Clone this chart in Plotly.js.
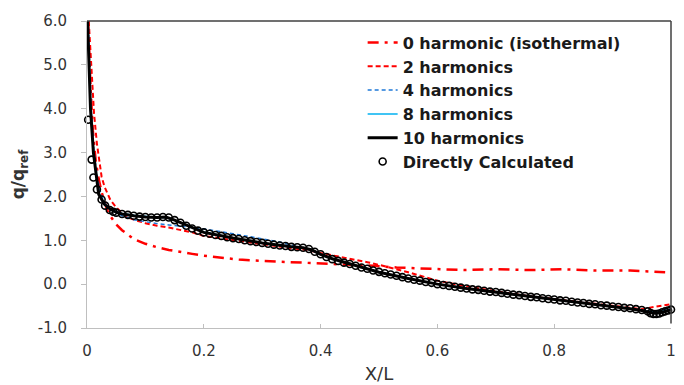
<!DOCTYPE html>
<html>
<head>
<meta charset="utf-8">
<script src="https://cdn.plot.ly/plotly-3.0.1.min.js"></script>
<style>html,body{margin:0;padding:0;background:#fff;}#chart{width:684px;height:385px;}</style>
</head>
<body>
<div id="chart"></div>
<script>
// 0 harmonic (isothermal)
const h0X = [0.002,0.006,0.010,0.015,0.020,0.025,0.030,0.035,0.040,0.045,0.050,0.060,0.070,0.080,0.100,0.120,0.140,0.160,0.180,0.200,0.230,0.260,0.300,0.350,0.400,0.430,0.460,0.490,0.530,0.590,0.645,0.700,0.760,0.815,0.870,0.930,0.960,0.990];
const h0Y = [6.00,4.50,3.50,2.80,2.40,2.10,1.88,1.68,1.55,1.45,1.36,1.23,1.12,1.03,0.92,0.84,0.78,0.73,0.69,0.65,0.60,0.56,0.53,0.50,0.47,0.46,0.45,0.42,0.38,0.34,0.32,0.34,0.32,0.34,0.31,0.31,0.29,0.27];
// 2 harmonics
const h2X = [0.003,0.008,0.012,0.017,0.020,0.025,0.030,0.035,0.040,0.050,0.060,0.070,0.080,0.100,0.120,0.140,0.160,0.180,0.200,0.250,0.300,0.350,0.380,0.400,0.420,0.450,0.480,0.500,0.550,0.600,0.650,0.700,0.750,0.800,0.850,0.900,0.950,0.970,0.990,1.000];
const h2Y = [6.00,4.80,3.90,3.20,2.90,2.45,2.22,2.05,1.92,1.75,1.62,1.52,1.47,1.39,1.33,1.29,1.24,1.18,1.10,1.00,0.91,0.82,0.77,0.71,0.66,0.58,0.50,0.44,0.27,0.08,-0.05,-0.16,-0.26,-0.34,-0.42,-0.50,-0.57,-0.52,-0.47,-0.46];
// 4 harmonics
const h4X = [0.002,0.004,0.007,0.012,0.018,0.023,0.030,0.040,0.050,0.060,0.080,0.100,0.120,0.140,0.160,0.180,0.200,0.250,0.300,0.330,0.350,0.370,0.390,0.400,0.420,0.450,0.500,0.550,0.600,0.650,0.700,0.750,0.800,0.850,0.900,0.950,0.970,0.990,1.000];
const h4Y = [6.00,5.00,4.00,3.00,2.40,2.10,1.85,1.70,1.62,1.56,1.47,1.42,1.38,1.35,1.32,1.29,1.26,1.15,1.03,0.96,0.89,0.83,0.74,0.68,0.57,0.46,0.28,0.13,0.00,-0.10,-0.18,-0.27,-0.35,-0.43,-0.51,-0.59,-0.63,-0.57,-0.56];
// 8 harmonics
const h8X = [0.001,0.003,0.006,0.011,0.020,0.030,0.040,0.050,0.060,0.080,0.100,0.120,0.135,0.150,0.170,0.200,0.250,0.300,0.350,0.370,0.385,0.400,0.420,0.450,0.500,0.550,0.600,0.650,0.700,0.750,0.800,0.850,0.900,0.930,0.950,0.965,0.975,0.985,1.000];
const h8Y = [6.00,5.00,4.00,3.00,2.10,1.83,1.72,1.65,1.61,1.57,1.54,1.52,1.52,1.46,1.35,1.19,1.05,0.94,0.85,0.83,0.78,0.68,0.58,0.46,0.27,0.13,0.00,-0.10,-0.18,-0.27,-0.35,-0.43,-0.51,-0.56,-0.60,-0.63,-0.64,-0.62,-0.57];
// 10 harmonics
const h10X = [0.001,0.003,0.006,0.011,0.020,0.030,0.040,0.050,0.060,0.080,0.100,0.120,0.135,0.150,0.170,0.200,0.250,0.300,0.350,0.370,0.385,0.400,0.420,0.450,0.500,0.550,0.600,0.650,0.700,0.750,0.800,0.850,0.900,0.930,0.950,0.965,0.975,0.985,1.000];
const h10Y = [6.00,5.00,4.00,3.00,2.05,1.82,1.71,1.64,1.60,1.56,1.53,1.52,1.53,1.46,1.35,1.18,1.05,0.94,0.85,0.83,0.78,0.68,0.58,0.46,0.27,0.13,0.00,-0.10,-0.18,-0.27,-0.35,-0.43,-0.51,-0.56,-0.60,-0.65,-0.66,-0.64,-0.58];
// Directly calculated
const dcX = [0.002,0.008,0.011,0.017,0.025,0.031,0.039,0.045,0.050,0.060,0.070,0.080,0.090,0.100,0.110,0.120,0.130,0.140,0.150,0.160,0.170,0.180,0.190,0.200,0.210,0.220,0.230,0.240,0.250,0.260,0.270,0.280,0.290,0.300,0.310,0.320,0.330,0.340,0.350,0.360,0.370,0.380,0.390,0.400,0.410,0.420,0.430,0.440,0.450,0.460,0.470,0.480,0.490,0.500,0.510,0.520,0.530,0.540,0.550,0.560,0.570,0.580,0.590,0.600,0.610,0.620,0.630,0.640,0.650,0.660,0.670,0.680,0.690,0.700,0.710,0.720,0.730,0.740,0.750,0.760,0.770,0.780,0.790,0.800,0.810,0.820,0.830,0.840,0.850,0.860,0.870,0.880,0.890,0.900,0.910,0.920,0.930,0.940,0.950,0.960,0.965,0.970,0.975,0.980,0.985,0.990,0.995,1.000];
const dcY = [3.75,2.84,2.43,2.16,1.93,1.79,1.69,1.65,1.63,1.60,1.58,1.56,1.54,1.53,1.52,1.52,1.53,1.52,1.46,1.40,1.33,1.27,1.22,1.18,1.15,1.12,1.10,1.07,1.05,1.03,1.00,0.98,0.96,0.94,0.92,0.90,0.88,0.87,0.85,0.84,0.83,0.80,0.74,0.68,0.62,0.57,0.53,0.49,0.46,0.42,0.38,0.35,0.31,0.28,0.25,0.22,0.19,0.16,0.13,0.10,0.08,0.05,0.03,0.00,-0.02,-0.04,-0.06,-0.08,-0.10,-0.12,-0.13,-0.15,-0.17,-0.18,-0.20,-0.22,-0.24,-0.25,-0.27,-0.29,-0.30,-0.32,-0.34,-0.35,-0.37,-0.38,-0.40,-0.42,-0.43,-0.45,-0.46,-0.48,-0.49,-0.51,-0.52,-0.54,-0.55,-0.57,-0.59,-0.62,-0.66,-0.68,-0.68,-0.67,-0.64,-0.62,-0.60,-0.58];

const seriesNames = ["0 harmonic (isothermal)","2 harmonics","4 harmonics","8 harmonics","10 harmonics","Directly Calculated"];
const xTickVals = [0,0.2,0.4,0.6,0.8,1];
const xTickText = ["0","0.2","0.4","0.6","0.8","1"];
const yTickVals = [-1,0,1,2,3,4,5,6];
const yTickText = ["-1.0","0.0","1.0","2.0","3.0","4.0","5.0","6.0"];

const FONT = 'DejaVu Sans, Verdana, sans-serif';

const traces = [
  {x:h0X, y:h0Y, name:seriesNames[0], mode:'lines', line:{color:'#FF0000', width:2.5, dash:'11px,6px,3px,6px'}},
  {x:h2X, y:h2Y, name:seriesNames[1], mode:'lines', line:{color:'#FF0000', width:2, dash:'5px,3px'}},
  {x:h4X, y:h4Y, name:seriesNames[2], mode:'lines', line:{color:'#1E78D7', width:1.5, dash:'4px,3px'}},
  {x:h8X, y:h8Y, name:seriesNames[3], mode:'lines', line:{color:'#00B0F0', width:1.5}},
  {x:h10X, y:h10Y, name:seriesNames[4], mode:'lines', line:{color:'#000000', width:3}},
  {x:dcX, y:dcY, name:seriesNames[5], mode:'markers', cliponaxis:false,
   marker:{symbol:'circle-open', size:7, color:'#000000', line:{width:1.6, color:'#000000'}}}
];

const layout = {
  width:684, height:385,
  margin:{l:87, r:13, t:21, b:57},
  paper_bgcolor:'#ffffff', plot_bgcolor:'#ffffff',
  font:{family:FONT, color:'#333333'},
  showlegend:true,
  legend:{x:0.472, y:0.985, xanchor:'left', yanchor:'top', bgcolor:'rgba(255,255,255,0)', borderwidth:0,
          font:{size:16, color:'#1a1a1a', weight:'bold', family:FONT}, tracegroupgap:0},
  xaxis:{range:[0,1], tickvals:xTickVals, ticktext:xTickText, showgrid:false, zeroline:false,
         showline:true, linecolor:'#bfbfbf', linewidth:1, ticks:'inside', ticklen:4, tickcolor:'#bfbfbf',
         tickfont:{size:15, color:'#333333', family:FONT}, ticklabelstandoff:9,
         title:{text:'X/L', font:{size:18, color:'#333333', family:FONT}, standoff:8}},
  yaxis:{range:[-1,6], tickvals:yTickVals, ticktext:yTickText, showgrid:false, zeroline:false,
         showline:true, linecolor:'#bfbfbf', linewidth:1, ticks:'outside', ticklen:5, tickcolor:'#bfbfbf',
         tickfont:{size:15, color:'#333333', family:FONT}, ticklabelstandoff:11,
         title:{text:'<b>q/q<sub>ref</sub></b>', font:{size:17, color:'#333333', family:FONT}, standoff:8}},
  shapes:[
    {type:'line', xref:'paper', yref:'paper', x0:0, x1:1, y0:1, y1:1, line:{color:'#404040', width:1.5}},
    {type:'line', xref:'paper', yref:'paper', x0:1, x1:1, y0:0.015, y1:1, line:{color:'#404040', width:1.5}}
  ]
};

Plotly.newPlot('chart', traces, layout, {displayModeBar:false, staticPlot:true});
</script>
</body>
</html>
